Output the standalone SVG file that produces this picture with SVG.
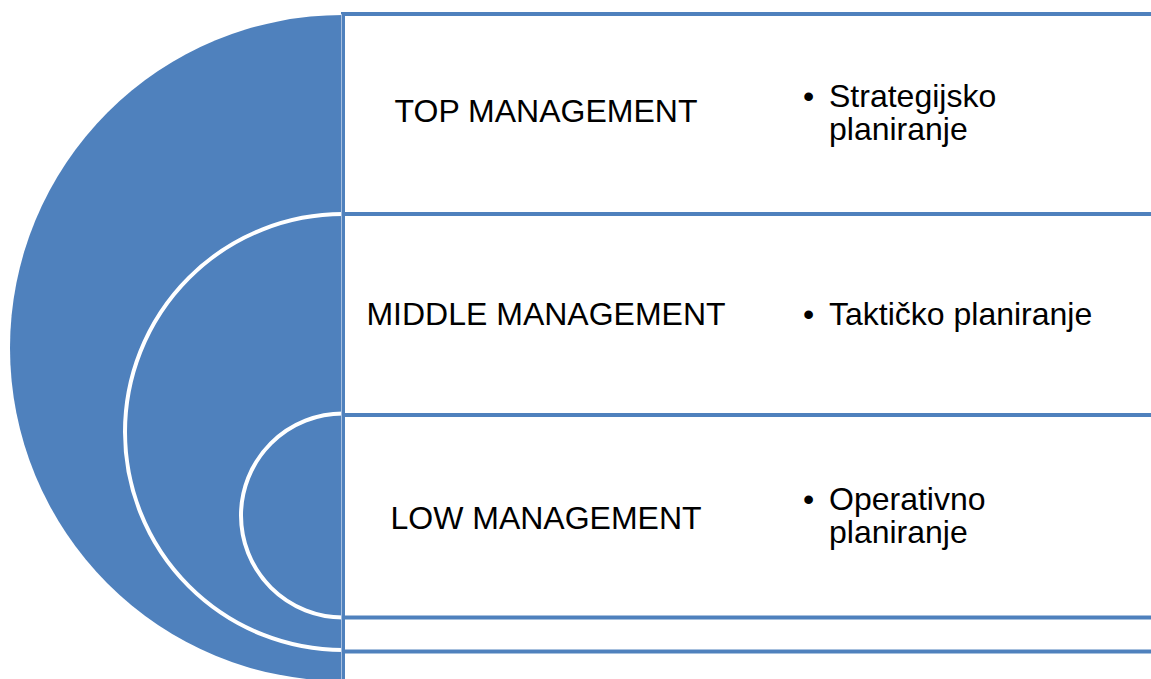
<svg xmlns="http://www.w3.org/2000/svg" width="1151" height="679" viewBox="0 0 1151 679">
<style>
.disc{fill:#4F81BD;}
.ring{fill:#4F81BD;stroke:#FFFFFF;stroke-width:4;}
.box{fill:#FFFFFF;stroke:#4F81BD;stroke-width:4;}
.lbl{font-family:"Liberation Sans",Arial,sans-serif;font-size:32px;fill:#000000;text-anchor:middle;}
.bul{font-family:"Liberation Sans",Arial,sans-serif;font-size:32px;fill:#000000;}
</style>
<rect width="1151" height="679" fill="#FFFFFF"/>
<g id="circles">
<path id="outer-disc" class="disc" d="M343,15 A333,333 0 0 0 343,681 Z"/>
<path id="middle-disc" class="ring" d="M343,214 A218,218 0 0 0 343,650"/>
<path id="inner-disc" class="ring" d="M343,413.5 A102,102 0 0 0 343,617.5"/>
</g>
<g id="node-top">
<rect class="box" x="343" y="14" width="900" height="700"/>
<text class="lbl" x="546" y="122">TOP MANAGEMENT</text>
<text class="bul"><tspan x="803" y="107">•</tspan><tspan x="829" y="107">Strategijsko</tspan><tspan x="829" y="140">planiranje</tspan></text>
</g>
<g id="node-middle">
<rect class="box" x="343" y="214" width="900" height="437.5"/>
<text class="lbl" x="546" y="325">MIDDLE MANAGEMENT</text>
<text class="bul"><tspan x="803" y="325">•</tspan><tspan x="829" y="325">Taktičko planiranje</tspan></text>
</g>
<g id="node-low">
<rect class="box" x="343" y="415" width="900" height="202.5"/>
<text class="lbl" x="546" y="529">LOW MANAGEMENT</text>
<text class="bul"><tspan x="803" y="510">•</tspan><tspan x="829" y="510">Operativno</tspan><tspan x="829" y="543">planiranje</tspan></text>
</g>
<g id="connectors">
<line x1="341.5" y1="14" x2="341.5" y2="679" stroke="#A7BFDF" stroke-width="1"/>
</g>
</svg>
